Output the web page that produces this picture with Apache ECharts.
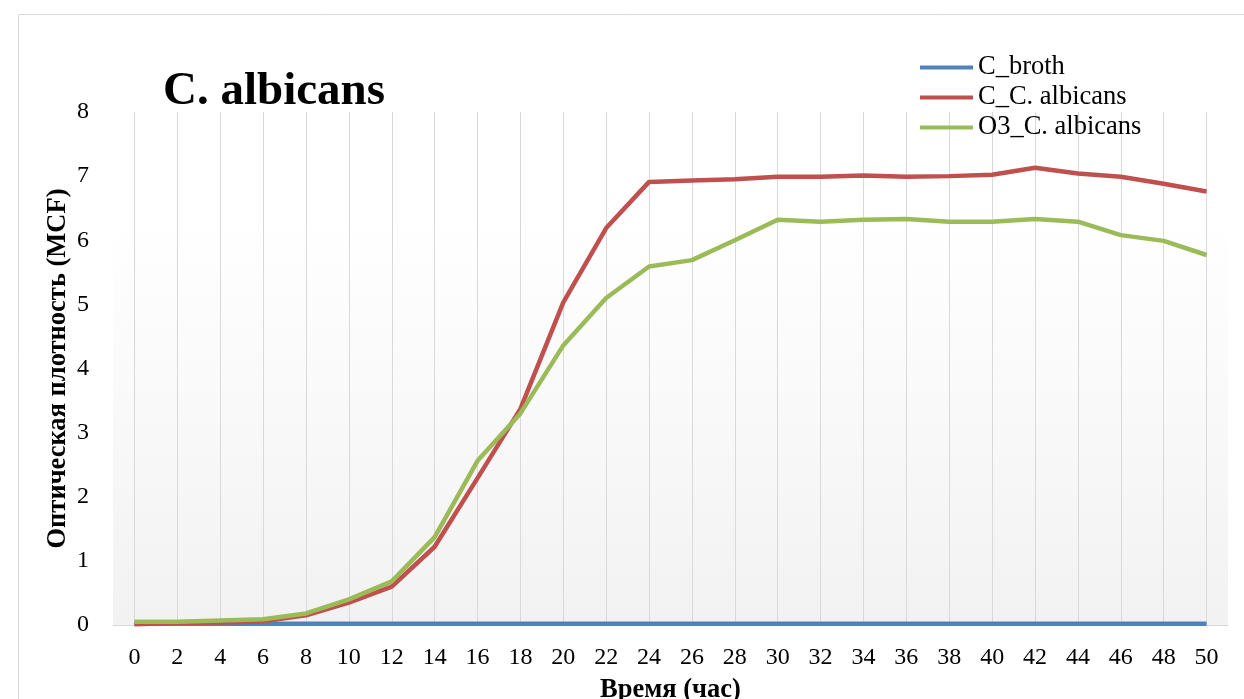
<!DOCTYPE html>
<html>
<head>
<meta charset="utf-8">
<script src="https://cdn.jsdelivr.net/npm/echarts@6/dist/echarts.min.js"></script>
<style>
html,body{margin:0;padding:0;background:#fff;}
#chart{width:1244px;height:699px;}
</style>
</head>
<body>
<div id="chart"></div>
<script>
const hours = ['0','2','4','6','8','10','12','14','16','18','20','22','24','26','28','30','32','34','36','38','40','42','44','46','48','50'];
const broth = [0.02,0.02,0.02,0.02,0.02,0.02,0.02,0.02,0.02,0.02,0.02,0.02,0.02,0.02,0.02,0.02,0.02,0.02,0.02,0.02,0.02,0.02,0.02,0.02,0.02,0.02];
const cAlbicans = [0.01,0.03,0.04,0.06,0.15,0.35,0.6,1.22,2.29,3.37,5.03,6.19,6.91,6.93,6.95,6.99,6.99,7.01,6.99,7.0,7.02,7.13,7.04,6.99,6.88,6.76];
const o3Albicans = [0.05,0.05,0.07,0.09,0.18,0.4,0.68,1.37,2.56,3.3,4.36,5.1,5.59,5.69,6.0,6.32,6.29,6.32,6.33,6.29,6.29,6.33,6.29,6.08,5.99,5.77];
const seriesNames = ['C_broth','C_C. albicans','O3_C. albicans'];
const yTicks = [0,1,2,3,4,5,6,7,8];

const font = '"Liberation Serif","Times New Roman",serif';
const chart = echarts.init(document.getElementById('chart'));
chart.setOption({
  animation: false,
  backgroundColor: '#ffffff',
  graphic: [
    {type:'rect', shape:{x:18.5,y:14.5,width:1240,height:700}, style:{fill:'none',stroke:'#d9d9d9',lineWidth:1}, z:-10},
    {type:'rect', shape:{x:113,y:220,width:1115,height:405}, style:{fill:new echarts.graphic.LinearGradient(0,0,0,1,[{offset:0,color:'#ffffff'},{offset:1,color:'#f2f2f2'}])}, z:-9},
    {type:'text', left:163, top:68, style:{text:'C. albicans', font:'bold 47px ' + font, fill:'#000'}}
  ],
  legend: {
    orient: 'vertical',
    left: 920,
    top: 54,
    padding: 0,
    itemWidth: 53,
    itemHeight: 4,
    itemGap: 3,
    icon: 'rect',
    textStyle: {fontFamily: font, fontSize: 26.5, color: '#000'},
    data: seriesNames
  },
  grid: {left: 113, right: 16, top: 112, bottom: 74, containLabel: false, outerBoundsMode: 'none'},
  xAxis: {
    type: 'category',
    data: hours,
    boundaryGap: true,
    name: 'Время (час)',
    nameLocation: 'middle',
    nameGap: 52,
    nameMoveOverlap: false,
    nameTextStyle: {fontFamily: font, fontSize: 26.5, fontWeight: 'bold', color: '#000'},
    axisLine: {lineStyle: {color: '#d9d9d9', width: 1}},
    axisTick: {show: false},
    axisLabel: {fontFamily: font, fontSize: 24, color: '#000', margin: 21, interval: 0},
    splitLine: {show: true, alignWithLabel: true, lineStyle: {color: '#d9d9d9', width: 1}}
  },
  yAxis: {
    type: 'value',
    min: 0, max: 8, interval: 1,
    name: 'Оптическая плотность (MCF)',
    nameLocation: 'middle',
    nameGap: 41,
    nameMoveOverlap: false,
    nameTextStyle: {fontFamily: font, fontSize: 26.5, fontWeight: 'bold', color: '#000'},
    axisLine: {show: false},
    axisTick: {show: false},
    axisLabel: {fontFamily: font, fontSize: 24, color: '#000', margin: 24},
    splitLine: {show: false}
  },
  series: [
    {name: seriesNames[0], type: 'line', data: broth, symbol: 'none', lineStyle: {width: 4.5, color: '#4f81bd'}, itemStyle: {color: '#4f81bd'}},
    {name: seriesNames[1], type: 'line', data: cAlbicans, symbol: 'none', lineStyle: {width: 4.5, color: '#c0504d'}, itemStyle: {color: '#c0504d'}},
    {name: seriesNames[2], type: 'line', data: o3Albicans, symbol: 'none', lineStyle: {width: 4.5, color: '#9bbb59'}, itemStyle: {color: '#9bbb59'}}
  ]
});
</script>
</body>
</html>
